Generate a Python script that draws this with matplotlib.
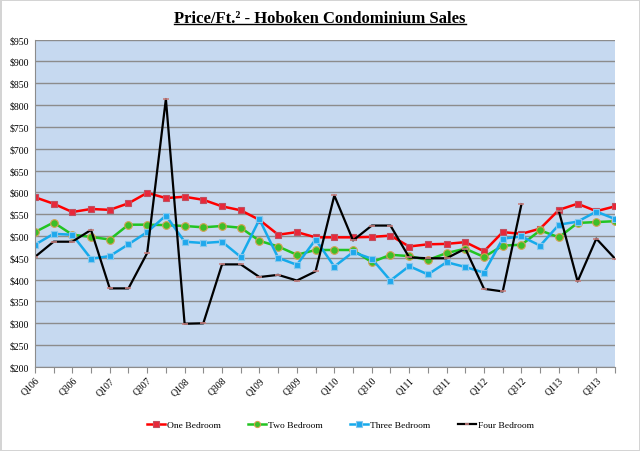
import numpy as np
import matplotlib
matplotlib.use('Agg')
import matplotlib.pyplot as plt
from matplotlib.lines import Line2D
from matplotlib.ticker import FuncFormatter, MultipleLocator

# ─── DATA ───────────────────────────────────────────────────────────────────
quarters = [f'Q{q}{y:02d}' for y in range(6, 14) for q in range(1, 5)]

one_bed = [589, 574, 555, 562, 560, 575, 599, 587, 590, 583, 568, 559,
           537, 503, 509, 497, 497, 497, 498, 501, 476, 481, 482, 486,
           465, 509, 505, 517, 560, 574, 557, 568]
two_bed = [509, 531, 503, 498, 492, 526, 526, 525, 523, 520, 523, 519,
           489, 476, 457, 468, 468, 468, 440, 457, 454, 445, 461, 471,
           452, 478, 480, 513, 497, 530, 532, 534]
three_bed = [480, 505, 503, 448, 454, 481, 509, 547, 487, 484, 487, 452,
             538, 450, 434, 492, 430, 463, 448, 398, 431, 412, 440, 429,
             416, 494, 499, 478, 526, 533, 556, 539]
# Q412 has no four-bedroom figure (gap in the line)
four_bed = [452, 487, 487, 514, 380, 380, 461, 814, 299, 300, 435, 435,
            406, 411, 398, 419, 593, 490, 524, 524, 451, 449, 449, 471,
            379, 373, 573, np.nan, 557, 396, 494, 448]

x = np.arange(len(quarters))

# ─── PLOT ───────────────────────────────────────────────────────────────────
plt.rcParams['font.family'] = ['Liberation Serif', 'DejaVu Serif']

fig = plt.figure(figsize=(6.4, 4.52), dpi=100)
fig.patch.set_edgecolor('#d4d4d4')
fig.patch.set_linewidth(2)
ax = fig.add_axes([0.0545, 0.186, 0.9065, 0.724])
ax.set_facecolor('#c6d9f0')

ax.plot(x, one_bed, '-s', color='#ff0000', lw=1.8, ms=5,
        mfc='#e8283a', mec='#c05060', mew=0.8, label='One Bedroom')
ax.plot(x, two_bed, '-o', color='#22c422', lw=1.8, ms=5.5,
        mfc='#3cbf28', mec='#d4a050', mew=0.8, label='Two Bedroom')
ax.plot(x, three_bed, '-s', color='#16aaeb', lw=1.8, ms=5,
        mfc='#1fa8ec', mec='#86c8ee', mew=0.8, label='Three Bedroom')
ax.plot(x, four_bed, '-', color='black', lw=1.6, marker='_', ms=4,
        mec='#c88080', mew=1.2, label='Four Bedroom')

ax.set_xlim(0, len(quarters) - 1)
ax.set_ylim(200, 950)
ax.yaxis.set_major_locator(MultipleLocator(50))
ax.yaxis.set_major_formatter(FuncFormatter(lambda v, p: f'${v:.0f}'))
ax.grid(axis='y', color='#8c8c8c', lw=1)
ax.set_axisbelow(True)

ax.set_xticks(x)
ax.set_xticklabels([q if i % 2 == 0 else '' for i, q in enumerate(quarters)],
                   rotation=45, ha='right', rotation_mode='anchor')
ax.tick_params(axis='x', length=4, color='#8c8c8c', labelsize=7, pad=2)
ax.tick_params(axis='y', length=0, labelsize=7, pad=4)

for s in ['top', 'right']:
    ax.spines[s].set_visible(False)
for s in ['left', 'bottom']:
    ax.spines[s].set_color('#8c8c8c')

leg = fig.legend(loc='center', bbox_to_anchor=(0.532, 0.058), ncol=4,
                 frameon=False, fontsize=6.8, handlelength=1.9,
                 columnspacing=2.9, handletextpad=0.2, markerscale=0.8)

title = fig.text(0.5, 0.958, 'Price/Ft.² - Hoboken Condominium Sales',
                 ha='center', va='center', fontsize=12, fontweight='bold')

# underline the title
fig.canvas.draw()
bb = title.get_window_extent().transformed(fig.transFigure.inverted())
fig.add_artist(Line2D([bb.x0, bb.x1], [bb.y0 + 0.004, bb.y0 + 0.004],
                      transform=fig.transFigure, color='black', lw=1))

plt.savefig('out.png', dpi=100)
